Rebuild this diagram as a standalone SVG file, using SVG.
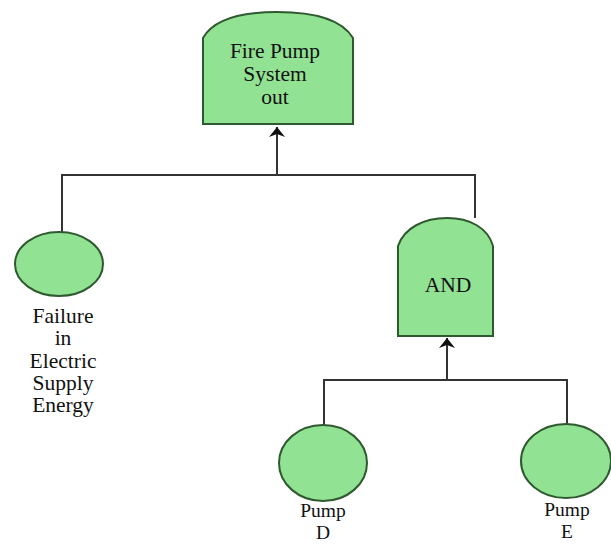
<svg xmlns="http://www.w3.org/2000/svg" width="611" height="544" viewBox="0 0 611 544">
<style>
.g{fill:#92e294;stroke:#2f5a2f;stroke-width:2}
.c{fill:none;stroke:#333;stroke-width:2}
.t{font-family:'Liberation Serif','Times New Roman',serif;font-size:21.5px;fill:#111;text-anchor:middle}
.s{font-size:19.5px}
</style>
<defs>
<marker id="ah" viewBox="0 0 10 16" refX="10" refY="8" markerWidth="10" markerHeight="16" markerUnits="userSpaceOnUse" orient="auto">
<path d="M10,8 L0,0 L3,8 L0,16 Z" fill="#111"/>
</marker>
</defs>
<rect width="611" height="544" fill="#fff"/>
<g id="connectors">
<path class="c" d="M277,175 V127" marker-end="url(#ah)"/>
<path class="c" d="M62,233 V175 H475 V218"/>
<path class="c" d="M447,380 V338" marker-end="url(#ah)"/>
<path class="c" d="M324,425 V380 H567 V424"/>
</g>
<g id="top">
<path class="g" d="M203,124 V38 C214,18 245,12 277,12 C309,12 341,18 353,38 V124 Z"/>
<text class="t" x="275" y="58">Fire Pump</text>
<text class="t" x="275" y="81">System</text>
<text class="t" x="275" y="104">out</text>
</g>
<g id="and">
<path class="g" d="M398,336 V246 C404,228 424,218 447,218 C470,218 488,228 493,246 V336 Z"/>
<text class="t" x="448" y="292">AND</text>
</g>
<g id="failure">
<ellipse class="g" cx="59" cy="264" rx="44" ry="32"/>
<text class="t" x="63" y="323">Failure</text>
<text class="t" x="63" y="345">in</text>
<text class="t" x="63" y="368">Electric</text>
<text class="t" x="63" y="390">Supply</text>
<text class="t" x="63" y="412">Energy</text>
</g>
<g id="pumpD">
<ellipse class="g" cx="323" cy="463" rx="44" ry="38"/>
<text class="t s" x="323" y="517">Pump</text>
<text class="t s" x="323" y="539">D</text>
</g>
<g id="pumpE">
<ellipse class="g" cx="566" cy="461" rx="45" ry="37"/>
<text class="t s" x="567" y="516">Pump</text>
<text class="t s" x="567" y="538">E</text>
</g>
</svg>
